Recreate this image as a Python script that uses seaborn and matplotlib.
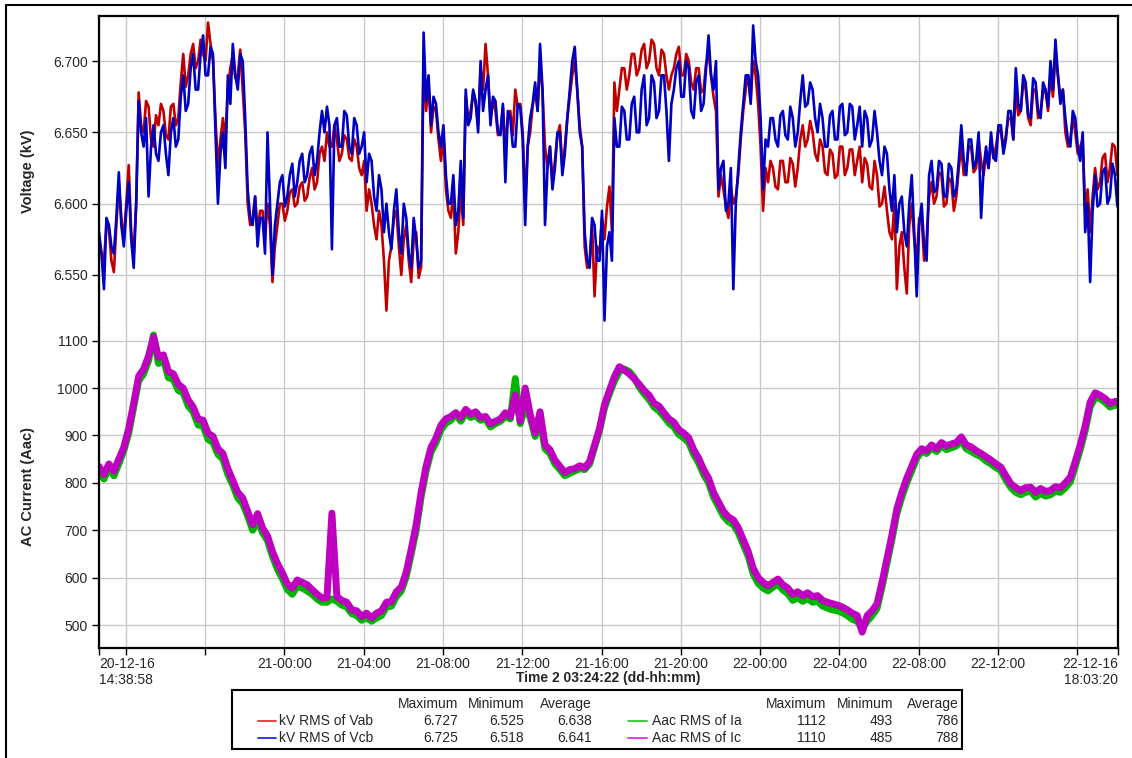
import numpy as np
import pandas as pd
import matplotlib
matplotlib.use("Agg")
import matplotlib.pyplot as plt
import seaborn as sns
from matplotlib.lines import Line2D
from matplotlib.patches import Rectangle

# ---- logged samples: hours since 20-12-16 00:00 ----
# voltages are read every 7.5 min (two interleaved sets), currents every 15 min
hours = np.round(14.65 + 0.25 * np.arange(207), 3)
hours_mid = hours + 0.125
t_start = 14 + 38 / 60 + 58 / 3600          # 20-12-16 14:38:58
t_end = 48 + 18 + 3 / 60 + 20 / 3600        # 22-12-16 18:03:20

vab_kv = [
    6.575, 6.560, 6.582, 6.552, 6.615, 6.575, 6.627, 6.565,
    6.678, 6.650, 6.668, 6.640, 6.655, 6.665, 6.645, 6.670,
    6.660, 6.705, 6.690, 6.712, 6.700, 6.705, 6.727, 6.700,
    6.625, 6.660, 6.680, 6.705, 6.690, 6.680, 6.600, 6.590,
    6.580, 6.595, 6.600, 6.545, 6.585, 6.600, 6.595, 6.610,
    6.600, 6.615, 6.605, 6.625, 6.615, 6.640, 6.650, 6.640,
    6.645, 6.635, 6.645, 6.630, 6.640, 6.620, 6.595, 6.600,
    6.575, 6.585, 6.525, 6.570, 6.595, 6.550, 6.585, 6.545,
    6.580, 6.555, 6.665, 6.650, 6.665, 6.630, 6.610, 6.590,
    6.565, 6.610, 6.675, 6.665, 6.670, 6.695, 6.712, 6.660,
    6.665, 6.650, 6.640, 6.665, 6.680, 6.670, 6.600, 6.650,
    6.680, 6.700, 6.640, 6.640, 6.630, 6.655, 6.640, 6.675,
    6.700, 6.655, 6.570, 6.560, 6.535, 6.565, 6.575, 6.612,
    6.685, 6.680, 6.695, 6.690, 6.705, 6.695, 6.712, 6.700,
    6.712, 6.690, 6.705, 6.680, 6.695, 6.710, 6.690, 6.700,
    6.680, 6.695, 6.680, 6.705, 6.675, 6.605, 6.610, 6.590,
    6.600, 6.620, 6.665, 6.690, 6.700, 6.670, 6.595, 6.615,
    6.625, 6.610, 6.630, 6.615, 6.628, 6.625, 6.655, 6.645,
    6.650, 6.630, 6.640, 6.620, 6.635, 6.620, 6.640, 6.625,
    6.638, 6.630, 6.615, 6.628, 6.610, 6.620, 6.600, 6.595,
    6.575, 6.540, 6.580, 6.537, 6.600, 6.560, 6.590, 6.575,
    6.615, 6.605, 6.620, 6.600, 6.615, 6.605, 6.640, 6.625,
    6.640, 6.625, 6.630, 6.635, 6.645, 6.640, 6.650, 6.648,
    6.660, 6.680, 6.665, 6.680, 6.655, 6.680, 6.665, 6.680,
    6.690, 6.705, 6.675, 6.650, 6.645, 6.650, 6.640, 6.595,
    6.580, 6.625, 6.615, 6.635, 6.625, 6.640, 6.630,
]

vab_kv_mid = [
    6.565, 6.585, 6.560, 6.585, 6.590, 6.600, 6.580, 6.600,
    6.655, 6.672, 6.645, 6.662, 6.670, 6.648, 6.668, 6.655,
    6.685, 6.682, 6.705, 6.695, 6.715, 6.700, 6.712, 6.660,
    6.645, 6.645, 6.695, 6.688, 6.708, 6.650, 6.585, 6.605,
    6.595, 6.575, 6.585, 6.570, 6.600, 6.588, 6.608, 6.598,
    6.612, 6.602, 6.618, 6.610, 6.635, 6.630, 6.640, 6.655,
    6.630, 6.648, 6.632, 6.645, 6.625, 6.630, 6.610, 6.585,
    6.595, 6.560, 6.560, 6.590, 6.570, 6.575, 6.560, 6.575,
    6.548, 6.705, 6.685, 6.668, 6.645, 6.648, 6.595, 6.610,
    6.580, 6.585, 6.660, 6.678, 6.655, 6.680, 6.690, 6.672,
    6.648, 6.668, 6.660, 6.648, 6.668, 6.650, 6.640, 6.668,
    6.665, 6.678, 6.625, 6.615, 6.648, 6.625, 6.660, 6.690,
    6.680, 6.640, 6.555, 6.585, 6.570, 6.590, 6.598, 6.580,
    6.665, 6.695, 6.680, 6.705, 6.690, 6.708, 6.695, 6.715,
    6.695, 6.708, 6.690, 6.690, 6.705, 6.690, 6.705, 6.685,
    6.695, 6.678, 6.698, 6.690, 6.665, 6.620, 6.598, 6.612,
    6.605, 6.645, 6.680, 6.672, 6.690, 6.640, 6.625, 6.630,
    6.612, 6.630, 6.615, 6.632, 6.612, 6.645, 6.640, 6.658,
    6.635, 6.645, 6.622, 6.638, 6.618, 6.640, 6.620, 6.638,
    6.620, 6.640, 6.632, 6.612, 6.630, 6.598, 6.612, 6.580,
    6.600, 6.570, 6.555, 6.585, 6.575, 6.590, 6.560, 6.605,
    6.600, 6.622, 6.598, 6.618, 6.595, 6.625, 6.620, 6.640,
    6.622, 6.645, 6.620, 6.625, 6.632, 6.652, 6.638, 6.660,
    6.645, 6.662, 6.685, 6.660, 6.680, 6.660, 6.678, 6.665,
    6.675, 6.690, 6.680, 6.640, 6.660, 6.635, 6.645, 6.610,
    6.605, 6.610, 6.632, 6.615, 6.642, 6.620, 6.635,
]

vcb_kv = [
    6.580, 6.540, 6.585, 6.565, 6.622, 6.570, 6.615, 6.555,
    6.672, 6.640, 6.605, 6.655, 6.630, 6.655, 6.620, 6.660,
    6.645, 6.690, 6.670, 6.705, 6.680, 6.718, 6.690, 6.705,
    6.600, 6.650, 6.690, 6.712, 6.680, 6.700, 6.610, 6.585,
    6.570, 6.590, 6.650, 6.550, 6.600, 6.620, 6.605, 6.628,
    6.615, 6.635, 6.620, 6.640, 6.630, 6.665, 6.668, 6.568,
    6.660, 6.640, 6.662, 6.635, 6.655, 6.640, 6.615, 6.630,
    6.595, 6.610, 6.600, 6.568, 6.610, 6.565, 6.590, 6.555,
    6.575, 6.560, 6.672, 6.655, 6.670, 6.640, 6.620, 6.600,
    6.585, 6.630, 6.680, 6.660, 6.672, 6.700, 6.680, 6.655,
    6.672, 6.648, 6.615, 6.660, 6.640, 6.668, 6.585, 6.660,
    6.685, 6.712, 6.585, 6.640, 6.625, 6.650, 6.635, 6.680,
    6.710, 6.650, 6.580, 6.555, 6.585, 6.560, 6.518, 6.580,
    6.660, 6.640, 6.665, 6.645, 6.675, 6.650, 6.690, 6.660,
    6.685, 6.665, 6.690, 6.630, 6.680, 6.700, 6.675, 6.695,
    6.660, 6.690, 6.670, 6.718, 6.680, 6.610, 6.630, 6.600,
    6.540, 6.625, 6.670, 6.690, 6.725, 6.690, 6.610, 6.640,
    6.660, 6.640, 6.665, 6.645, 6.660, 6.650, 6.690, 6.670,
    6.680, 6.650, 6.660, 6.640, 6.665, 6.645, 6.670, 6.650,
    6.668, 6.655, 6.640, 6.660, 6.645, 6.650, 6.620, 6.635,
    6.595, 6.580, 6.605, 6.570, 6.620, 6.535, 6.600, 6.560,
    6.630, 6.610, 6.628, 6.605, 6.625, 6.610, 6.655, 6.620,
    6.645, 6.630, 6.590, 6.640, 6.650, 6.630, 6.655, 6.645,
    6.665, 6.695, 6.665, 6.685, 6.660, 6.685, 6.660, 6.680,
    6.700, 6.715, 6.670, 6.660, 6.640, 6.660, 6.630, 6.580,
    6.545, 6.620, 6.600, 6.625, 6.605, 6.620, 6.612,
]

vcb_kv_mid = [
    6.565, 6.590, 6.570, 6.590, 6.585, 6.595, 6.575, 6.600,
    6.650, 6.660, 6.640, 6.635, 6.650, 6.635, 6.650, 6.640,
    6.675, 6.665, 6.695, 6.680, 6.705, 6.690, 6.710, 6.650,
    6.635, 6.625, 6.670, 6.690, 6.705, 6.660, 6.590, 6.605,
    6.590, 6.565, 6.600, 6.585, 6.615, 6.598, 6.620, 6.605,
    6.630, 6.615, 6.635, 6.620, 6.650, 6.650, 6.655, 6.655,
    6.640, 6.665, 6.640, 6.660, 6.635, 6.650, 6.635, 6.605,
    6.620, 6.580, 6.580, 6.595, 6.580, 6.600, 6.565, 6.590,
    6.555, 6.720, 6.690, 6.675, 6.650, 6.655, 6.600, 6.620,
    6.595, 6.590, 6.655, 6.680, 6.650, 6.665, 6.690, 6.675,
    6.650, 6.670, 6.665, 6.640, 6.670, 6.645, 6.640, 6.670,
    6.665, 6.680, 6.625, 6.610, 6.650, 6.620, 6.660, 6.700,
    6.680, 6.640, 6.560, 6.590, 6.560, 6.595, 6.570, 6.560,
    6.640, 6.668, 6.645, 6.670, 6.650, 6.680, 6.655, 6.690,
    6.660, 6.690, 6.665, 6.670, 6.695, 6.675, 6.700, 6.665,
    6.685, 6.665, 6.695, 6.690, 6.700, 6.625, 6.595, 6.625,
    6.600, 6.650, 6.690, 6.670, 6.700, 6.660, 6.645, 6.660,
    6.645, 6.662, 6.648, 6.668, 6.640, 6.672, 6.668, 6.685,
    6.660, 6.670, 6.640, 6.662, 6.645, 6.668, 6.648, 6.670,
    6.645, 6.668, 6.665, 6.640, 6.665, 6.630, 6.640, 6.610,
    6.620, 6.600, 6.580, 6.600, 6.580, 6.585, 6.570, 6.620,
    6.608, 6.630, 6.605, 6.628, 6.605, 6.630, 6.630, 6.645,
    6.625, 6.650, 6.625, 6.625, 6.632, 6.655, 6.635, 6.665,
    6.645, 6.670, 6.690, 6.662, 6.688, 6.665, 6.685, 6.668,
    6.680, 6.690, 6.680, 6.645, 6.665, 6.640, 6.650, 6.600,
    6.595, 6.598, 6.622, 6.600, 6.628, 6.598, 6.615,
]

ia_amps = [
    825, 808, 832, 815, 840, 868, 905, 960,
    1015, 1030, 1058, 1112, 1052, 1060, 1022, 1018,
    995, 990, 962, 950, 922, 920, 892, 885,
    860, 850, 818, 795, 768, 756, 730, 700,
    722, 695, 678, 645, 618, 598, 575, 565,
    582, 578, 572, 565, 555, 548, 548, 555,
    550, 542, 538, 524, 520, 510, 515, 508,
    515, 520, 538, 540, 560, 572, 602, 650,
    700, 770, 825, 865, 885, 912, 926, 932,
    945, 930, 948, 938, 942, 932, 935, 918,
    925, 930, 940, 935, 1020, 925, 960, 938,
    898, 930, 872, 862, 840, 828, 815, 820,
    825, 830, 828, 840, 875, 910, 958, 988,
    1015, 1035, 1040, 1035, 1022, 1002, 988, 976,
    960, 952, 940, 926, 918, 902, 895, 885,
    860, 842, 818, 800, 770, 750, 730, 718,
    712, 695, 670, 645, 608, 588, 578, 572,
    580, 586, 574, 566, 552, 558, 550, 556,
    548, 550, 540, 536, 532, 530, 526, 520,
    512, 508, 493, 508, 520, 535, 580, 630,
    680, 735, 770, 800, 826, 852, 866, 862,
    874, 866, 878, 870, 874, 878, 888, 872,
    866, 860, 855, 846, 840, 832, 826, 806,
    790, 780, 775, 780, 782, 770, 778, 772,
    775, 782, 780, 790, 802, 835, 870, 910,
    960, 980, 978, 970, 960, 964, 962,
]

ic_amps = [
    835, 818, 840, 825, 850, 875, 915, 968,
    1025, 1040, 1068, 1108, 1065, 1070, 1035, 1030,
    1008, 1000, 975, 960, 935, 932, 905, 898,
    872, 862, 830, 805, 780, 768, 740, 712,
    735, 705, 688, 655, 630, 610, 587, 578,
    595, 590, 585, 575, 565, 557, 558, 736,
    560, 552, 548, 532, 530, 518, 525, 515,
    525, 530, 548, 550, 570, 580, 612, 660,
    712, 780, 835, 875, 895, 922, 935, 940,
    948, 938, 955, 945, 950, 938, 940, 925,
    930, 935, 948, 940, 985, 930, 1000, 945,
    905, 950, 880, 870, 848, 835, 822, 828,
    830, 836, 832, 845, 880, 915, 965, 995,
    1024, 1045, 1038, 1030, 1020, 1008, 995, 985,
    968, 962, 948, 935, 928, 912, 905, 895,
    870, 852, 828, 810, 780, 760, 740, 728,
    722, 705, 680, 655, 620, 600, 590, 583,
    590, 597, 585, 578, 565, 570, 562, 568,
    560, 562, 552, 548, 545, 542, 538, 532,
    525, 520, 485, 520, 530, 545, 590, 640,
    690, 745, 780, 810, 835, 860, 872, 868,
    880, 872, 885, 878, 882, 885, 897, 880,
    876, 868, 862, 855, 848, 840, 833, 815,
    798, 790, 784, 790, 791, 780, 788, 782,
    784, 792, 790, 800, 812, 845, 880, 920,
    970, 990, 985, 978, 968, 972, 970,
]

# summary table shown under the chart
volt_names = ["kV RMS of Vab", "kV RMS of Vcb"]
volt_stats = [["6.727", "6.525", "6.638"], ["6.725", "6.518", "6.641"]]
amp_names = ["Aac RMS of Ia", "Aac RMS of Ic"]
amp_stats = [["1112", "493", "786"], ["1110", "485", "788"]]
stat_headers = ["Maximum", "Minimum", "Average"]

# axis ticks
volt_ticks = [6.55, 6.60, 6.65, 6.70]
amp_ticks = [500, 600, 700, 800, 900, 1000, 1100]
grid_hours = [16, 20, 24, 28, 32, 36, 40, 44, 48, 52, 56, 60, 64]
grid_labels = ["", "", "21-00:00", "21-04:00", "21-08:00", "21-12:00",
               "21-16:00", "21-20:00", "22-00:00", "22-04:00", "22-08:00",
               "22-12:00", ""]
start_label = "20-12-16\n14:38:58"
end_label = "22-12-16\n18:03:20"

# ---- styling ----
sns.set_style("white")
plt.rcParams["font.family"] = ["Liberation Sans", "DejaVu Sans"]
plt.rcParams["font.size"] = 10

c_vab, c_vcb = "#C00000", "#0000C0"
c_ia, c_ic = "#00B400", "#C000C0"
c_vab_key, c_vcb_key = "#E03030", "#2828E8"
c_ia_key, c_ic_key = "#30C830", "#E828E8"
grid_col = "#C8C8C8"

W, H = 1132, 758
fig = plt.figure(figsize=(W / 100, H / 100), dpi=100)


def px_box(left, top, right, bottom):
    return [left / W, 1 - bottom / H, (right - left) / W, (bottom - top) / H]


ax_v = fig.add_axes(px_box(99, 16, 1118, 328))
ax_i = fig.add_axes(px_box(99, 328, 1118, 648), sharex=ax_v)

# voltage frame: the two interleaved reading sets merged in time order
volt = pd.concat([
    pd.DataFrame({"hours": hours, "Vab": vab_kv, "Vcb": vcb_kv}),
    pd.DataFrame({"hours": hours_mid, "Vab": vab_kv_mid, "Vcb": vcb_kv_mid}),
]).sort_values("hours").reset_index(drop=True)
amps = pd.DataFrame({"hours": hours, "Ia": ia_amps, "Ic": ic_amps})

v_kw = dict(estimator=None, sort=False, legend=False, linewidth=1.9)
i_kw = dict(estimator=None, sort=False, legend=False, linewidth=5.0,
            solid_joinstyle="round")
sns.lineplot(data=volt, x="hours", y="Vab", ax=ax_v, color=c_vab, **v_kw)
sns.lineplot(data=volt, x="hours", y="Vcb", ax=ax_v, color=c_vcb, **v_kw)
sns.lineplot(data=amps, x="hours", y="Ia", ax=ax_i, color=c_ia, **i_kw)
sns.lineplot(data=amps, x="hours", y="Ic", ax=ax_i, color=c_ic, **i_kw)

ax_v.set_xlim(t_start, t_end)
ax_v.set_ylim(6.5128, 6.7316)
ax_i.set_ylim(451.5, 1126.8)

ax_v.set_yticks(volt_ticks)
ax_v.set_yticklabels([f"{v:.3f}" for v in volt_ticks])
ax_i.set_yticks(amp_ticks)
ax_i.set_yticklabels([str(v) for v in amp_ticks])

xt = [t_start] + grid_hours + [t_end]
ax_i.set_xticks(xt)
ax_i.set_xticklabels([start_label] + grid_labels + [end_label])
tl = ax_i.get_xticklabels()
tl[0].set_ha("left")
tl[-1].set_ha("right")

for ax in (ax_v, ax_i):
    ax.set_xlabel("")
    ax.set_ylabel("")
    ax.grid(True, color=grid_col, linewidth=1.0)
    ax.set_axisbelow(True)
    ax.tick_params(axis="both", direction="out", length=5, width=1,
                   color="black", labelsize=10, pad=3, left=True)
    for s in ax.spines.values():
        s.set_linewidth(1.6)
        s.set_color("black")

ax_v.tick_params(axis="x", bottom=False, labelbottom=False)
ax_i.tick_params(axis="x", bottom=True, labelbottom=True, pad=1.5)
ax_v.spines["bottom"].set_visible(False)
ax_i.spines["top"].set_visible(False)

# axis titles
fig.text(28 / W, 1 - 171 / H, "Voltage (kV)", rotation=90, fontweight="bold",
         ha="center", va="center", fontsize=10.5)
fig.text(28 / W, 1 - 486 / H, "AC Current (Aac)", rotation=90,
         fontweight="bold", ha="center", va="center", fontsize=10.5)
fig.text(608 / W, 1 - 678 / H, "Time 2 03:24:22 (dd-hh:mm)",
         fontweight="bold", ha="center", va="center", fontsize=10)

# frame lines of the page
fig.add_artist(Line2D([6 / W, 6 / W], [0, 1 - 5 / H], color="black", lw=1.5,
                      transform=fig.transFigure))
fig.add_artist(Line2D([6 / W, 1], [1 - 5 / H, 1 - 5 / H], color="black",
                      lw=1.5, transform=fig.transFigure))

# statistics table
fig.add_artist(Rectangle((232 / W, 1 - 749 / H), (962 - 232) / W,
                         (749 - 690) / H, fill=False, lw=1.5,
                         edgecolor="black", transform=fig.transFigure))


def ftxt(x, y, s, ha="left"):
    fig.text(x / W, 1 - y / H, s, ha=ha, va="center", fontsize=10)


def key_line(x0, x1, y, color):
    fig.add_artist(Line2D([x0 / W, x1 / W], [1 - y / H, 1 - y / H],
                          color=color, lw=1.3, transform=fig.transFigure))


row_y = [721, 738]
left_cols = [458, 524, 592]
right_cols = [826, 893, 959]
for h, x in zip(stat_headers, left_cols):
    ftxt(x, 704, h, ha="right")
for h, x in zip(stat_headers, right_cols):
    ftxt(x, 704, h, ha="right")

for y, name, stats, col in zip(row_y, volt_names, volt_stats,
                               [c_vab_key, c_vcb_key]):
    key_line(258, 276, y, col)
    ftxt(279, y, name)
    for s, x in zip(stats, left_cols):
        ftxt(x, y, s, ha="right")

for y, name, stats, col in zip(row_y, amp_names, amp_stats,
                               [c_ia_key, c_ic_key]):
    key_line(628, 647, y, col)
    ftxt(652, y, name)
    for s, x in zip(stats, right_cols):
        ftxt(x, y, s, ha="right")

fig.savefig("out.png", dpi=100, facecolor="white")
